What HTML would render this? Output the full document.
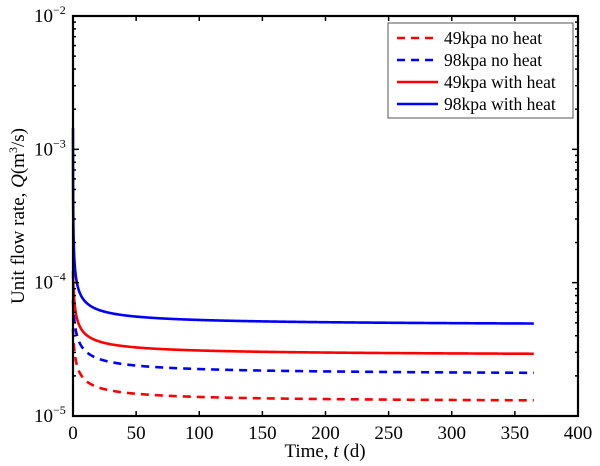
<!DOCTYPE html>
<html><head><style>body{margin:0;background:#fff}svg{display:block}text{font-family:"Liberation Serif",serif;fill:#000}</style></head>
<body>
<svg id="s" width="600" height="466" xmlns="http://www.w3.org/2000/svg">
<rect width="600" height="466" fill="#fff"/>
<g id="curves" fill="none" stroke-width="2.6"></g>
<g id="ticks" stroke="#000" stroke-width="1.5"></g>
<rect x="73" y="16" width="505" height="400" fill="none" stroke="#000" stroke-width="2.2"/>
<g font-size="19" text-anchor="middle" id="xl"></g>
<g font-size="19" id="yl"></g>
<text transform="translate(24,216) rotate(-90)" font-size="19" text-anchor="middle">Unit flow rate, <tspan font-style="italic">Q</tspan>(m<tspan font-size="12" dy="-7">3</tspan><tspan dy="7">/s)</tspan></text>
<text x="325" y="457" font-size="19" text-anchor="middle">Time,  <tspan font-style="italic">t</tspan> (d)</text>
<rect x="388" y="23" width="185" height="95" fill="#fff" stroke="#555" stroke-width="1"/>
<g stroke-width="2.6">
<line x1="397" y1="38" x2="438" y2="38" stroke="#f00" stroke-dasharray="8,6"/>
<line x1="397" y1="60" x2="438" y2="60" stroke="#00f" stroke-dasharray="8,6"/>
<line x1="397" y1="82" x2="438" y2="82" stroke="#f00"/>
<line x1="397" y1="104" x2="438" y2="104" stroke="#00f"/>
</g>
<g font-size="17.5">
<text x="444" y="44">49kpa no heat</text>
<text x="444" y="66">98kpa no heat</text>
<text x="444" y="88">49kpa with heat</text>
<text x="444" y="110">98kpa with heat</text>
</g>
</svg>
<script>
var NS="http://www.w3.org/2000/svg";
function X(t){return 73+t*505/400;}
function Y(q){return 16+(-2-Math.log10(q))*133.33;}
function el(p,n,a){var e=document.createElementNS(NS,n);for(var k in a)e.setAttribute(k,a[k]);p.appendChild(e);return e;}
var series=[
 {qi:1.25e-5,A:2.8e-5,c:0.8,col:"#f00",d:"8,6"},
 {qi:2.0e-5,A:5.0e-5,c:0.9,col:"#00f",d:"8,6"},
 {qi:2.8e-5,A:6.0e-5,c:0.5,col:"#f00",d:""},
 {qi:4.7e-5,A:1.1e-4,c:0.02,col:"#00f",d:""}];
var g=document.getElementById("curves");
series.forEach(function(s){var p="";for(var i=0;i<=800;i++){var t=i<200?Math.pow(i/200,3)*20:20+(i-200)/600*345;var q=s.qi+s.A*Math.pow(t+s.c,-0.65);p+=(i?"L":"M")+X(t).toFixed(2)+","+Y(q).toFixed(2);}
var a={d:p,stroke:s.col};if(s.d)a["stroke-dasharray"]=s.d;el(g,"path",a);});
var tk=document.getElementById("ticks"),xl=document.getElementById("xl"),yl=document.getElementById("yl");
for(var t=0;t<=400;t+=50){var x=X(t);el(tk,"line",{x1:x,y1:416,x2:x,y2:411});el(tk,"line",{x1:x,y1:16,x2:x,y2:21});el(xl,"text",{x:x,y:439}).textContent=t;}
for(var d=-2;d>=-5;d--){var y=Y(Math.pow(10,d));el(tk,"line",{x1:73,y1:y,x2:79,y2:y});el(tk,"line",{x1:578,y1:y,x2:572,y2:y});
var tx=el(yl,"text",{x:34,y:y+6});tx.textContent="10";var sp=el(tx,"tspan",{dy:-8,"font-size":"12"});sp.textContent="\u2212"+(-d);
if(d>-5)for(var m=2;m<10;m++){var yy=Y(m*Math.pow(10,d-1));el(tk,"line",{x1:73,y1:yy,x2:76,y2:yy});el(tk,"line",{x1:578,y1:yy,x2:575,y2:yy});}}
</script>
</body></html>
